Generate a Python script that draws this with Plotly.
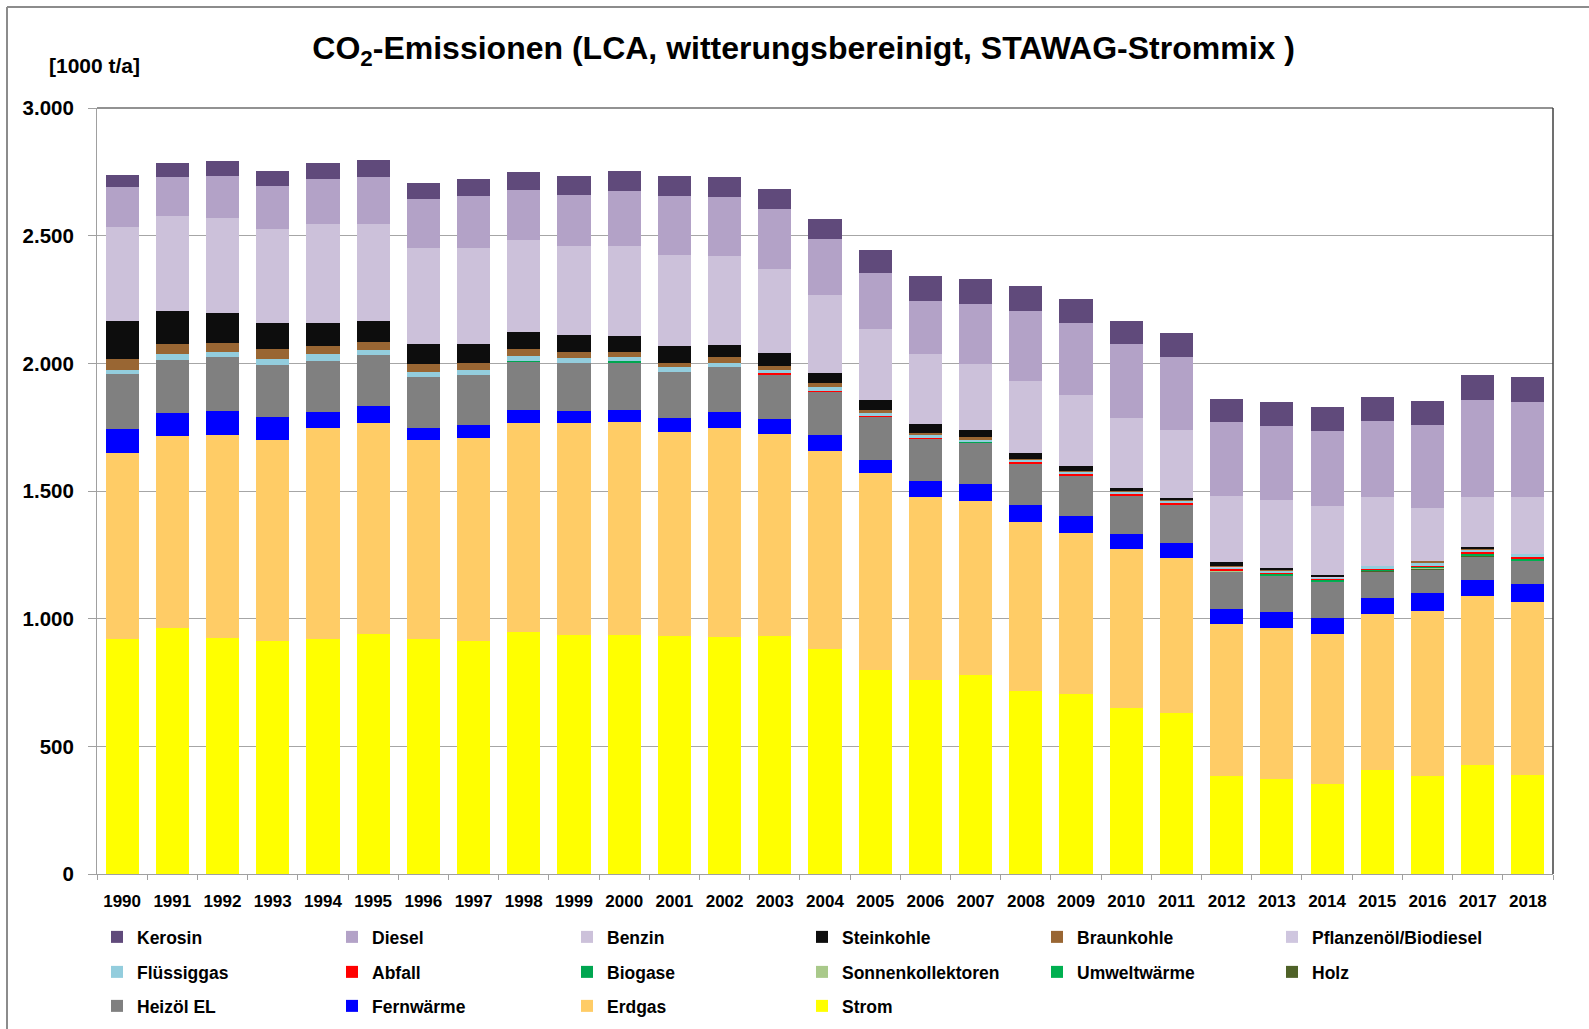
import plotly.graph_objects as go

years = [str(y) for y in range(1990, 2019)]

strom = [919, 963, 925, 914, 919, 941, 921, 914, 947, 937, 937, 933, 927, 933, 880, 799, 761, 779, 718, 704, 651, 631, 384, 374, 354, 409, 382, 425, 386]
erdgas = [730, 753, 793, 785, 829, 827, 780, 793, 819, 829, 833, 799, 821, 789, 777, 771, 714, 682, 662, 633, 620, 605, 595, 591, 587, 609, 648, 663, 680]
fernwaerme = [95, 91, 97, 91, 61, 63, 47, 53, 53, 47, 49, 54, 61, 60, 63, 52, 63, 68, 67, 65, 62, 59, 59, 61, 62, 62, 69, 63, 69]
heizoel = [216, 208, 208, 203, 200, 200, 198, 194, 188, 190, 186, 180, 176, 176, 168, 168, 167, 160, 161, 160, 150, 153, 145, 143, 144, 106, 94, 94, 91]
holz = [0] * 25 + [1, 2, 3, 3]
umweltwaerme = [0] * 22 + [3, 3, 2, 2, 3, 3, 2]
sonnenkollektoren = [0] * 22 + [1, 1, 1, 1, 1, 1, 1]
biogase = [0, 0, 0, 0, 0, 0, 0, 0, 4, 0, 4, 0, 0, 0, 0, 0, 0, 3, 0, 0, 0, 0, 3, 3, 3, 3, 4, 4, 3]
abfall = [0] * 13 + [3, 5, 5, 4, 0, 4, 4, 4, 4, 3, 3, 3, 3, 4, 4, 5]
fluessiggas = [15, 20, 20, 24, 26, 20, 22, 20, 16, 16, 14, 19, 16, 14, 15, 10, 11, 7, 10, 10, 10, 9, 8, 8, 7, 10, 12, 9, 14]
pflanzenoel = [0] * 22 + [3, 2, 2, 0, 2, 3, 0]
braunkohle = [42, 39, 37, 38, 31, 33, 31, 29, 28, 24, 20, 18, 22, 14, 14, 14, 8, 12, 4, 4, 2, 2, 4, 3, 2, 0, 4, 2, 0]
steinkohle = [148, 131, 117, 104, 93, 83, 75, 73, 69, 67, 63, 63, 47, 50, 42, 36, 34, 29, 23, 18, 14, 10, 12, 6, 4, 0, 0, 5, 0]
benzin = [368, 372, 372, 368, 388, 380, 376, 374, 358, 348, 352, 360, 352, 330, 302, 281, 273, 259, 283, 279, 273, 265, 262, 267, 270, 271, 208, 198, 223]
diesel = [156, 154, 166, 166, 176, 184, 192, 204, 195, 200, 216, 228, 230, 237, 222, 217, 211, 232, 273, 280, 288, 285, 290, 290, 294, 298, 326, 380, 372]
kerosin = [50, 53, 57, 60, 61, 65, 63, 69, 74, 77, 81, 81, 79, 75, 77, 89, 97, 98, 99, 95, 93, 95, 89, 94, 95, 94, 94, 98, 98]

# (name, values, colour, legend) - bottom of stack first
series = [
    ("Strom", strom, "#FFFF00", "legend3"),
    ("Erdgas", erdgas, "#FFCC66", "legend3"),
    ("Fernwärme", fernwaerme, "#0000FF", "legend3"),
    ("Heizöl EL", heizoel, "#808080", "legend3"),
    ("Holz", holz, "#4F6228", "legend2"),
    ("Umweltwärme", umweltwaerme, "#00B050", "legend2"),
    ("Sonnenkollektoren", sonnenkollektoren, "#A9C98A", "legend2"),
    ("Biogase", biogase, "#00A650", "legend2"),
    ("Abfall", abfall, "#FF0000", "legend2"),
    ("Flüssiggas", fluessiggas, "#93CDDD", "legend2"),
    ("Pflanzenöl/Biodiesel", pflanzenoel, "#CFC6DF", "legend"),
    ("Braunkohle", braunkohle, "#996633", "legend"),
    ("Steinkohle", steinkohle, "#0D0D0D", "legend"),
    ("Benzin", benzin, "#CCC1DA", "legend"),
    ("Diesel", diesel, "#B3A2C7", "legend"),
    ("Kerosin", kerosin, "#604A7B", "legend"),
]

FONT = "Liberation Sans, Arial, sans-serif"
W, H = 1589, 1029

fig = go.Figure()
for name, vals, col, leg in series:
    fig.add_trace(go.Bar(
        x=years, y=vals, name=name, legend=leg,
        marker=dict(color=col, line=dict(width=0)),
    ))

L, R, T, B = 97, W - 1553, 108, H - 874
plot_w = W - L - R
plot_h = H - T - B


def py(pix):
    return (H - B - pix) / plot_h


def px(pix):
    return (pix - L) / plot_w


legend_common = dict(
    orientation="h", xanchor="left", yanchor="middle",
    xref="container", yref="container",
    x=97 / W, entrywidth=190, entrywidthmode="pixels",
    traceorder="reversed", bgcolor="rgba(0,0,0,0)",
    font=dict(family=FONT, size=17.5, color="#000000", weight="bold"),
    itemclick=False, itemdoubleclick=False,
)

fig.update_layout(
    width=W, height=H,
    margin=dict(l=L, r=R, t=T, b=B, pad=0, autoexpand=False),
    paper_bgcolor="white", plot_bgcolor="white",
    barmode="stack", bargap=0.34,
    separators=",.",
    font=dict(family=FONT, color="#000000"),
    title=dict(
        text="CO<sub>2</sub>-Emissionen (LCA, witterungsbereinigt, STAWAG-Strommix )",
        x=793 / 1568, xanchor="center", xref="container",
        y=1 - 47 / 1015, yanchor="middle", yref="container",
        font=dict(family=FONT, size=32, color="#000000", weight="bold"),
    ),
    legend=dict(legend_common, y=1 - 937 / H),
    legend2=dict(legend_common, y=1 - 972 / H),
    legend3=dict(legend_common, y=1 - 1006 / H),
    xaxis=dict(
        type="category", showgrid=False,
        showline=True, linecolor="#A0A0A0", linewidth=1,
        ticks="outside", tickson="boundaries", ticklen=5, tickcolor="#A0A0A0",
        tickfont=dict(family=FONT, size=17, color="#000000", weight="bold"),
        ticklabelstandoff=12,
    ),
    yaxis=dict(
        range=[0, 3000], dtick=500, tickformat=",d",
        showgrid=True, gridcolor="#A6A6A6", gridwidth=1.3,
        showline=True, linecolor="#A0A0A0", linewidth=1,
        ticks="outside", ticklen=8, tickcolor="#A0A0A0",
        tickfont=dict(family=FONT, size=20.5, color="#000000", weight="bold"),
        ticklabelstandoff=10, zeroline=False,
    ),
    annotations=[dict(
        text="[1000 t/a]", xref="paper", yref="paper",
        x=px(47), y=py(65), xanchor="left", yanchor="middle", showarrow=False,
        font=dict(family=FONT, size=21, color="#000000", weight="bold"),
    )],
    shapes=[
        # plot frame top and right
        dict(type="line", xref="paper", yref="paper", x0=0, x1=1, y0=1, y1=1,
             line=dict(color="#262626", width=1.2)),
        dict(type="line", xref="paper", yref="paper", x0=1, x1=1, y0=0, y1=1,
             line=dict(color="#404040", width=1.5)),
        # outer chart border
        dict(type="line", xref="paper", yref="paper", x0=px(7), x1=px(7), y0=py(1040), y1=py(7),
             line=dict(color="#8C8C8C", width=2)),
        dict(type="line", xref="paper", yref="paper", x0=px(7), x1=px(1600), y0=py(7), y1=py(7),
             line=dict(color="#8C8C8C", width=2)),
    ],
)

fig.write_html(
    "out.html",
    config={"displayModeBar": False},
    post_script="document.body.style.margin='0';document.body.style.overflow='hidden';",
)
